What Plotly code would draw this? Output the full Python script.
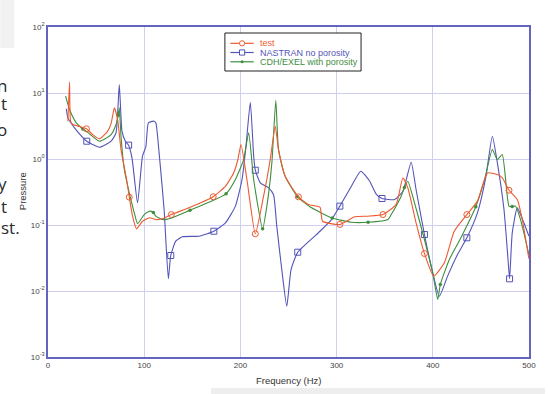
import plotly.graph_objects as go

# ---------------- data ----------------
red_f = [20.7, 22.4, 23.5, 25.9, 32.8, 40.0, 47.0, 53.5, 61.7, 65.5, 69.0, 72.4, 75.9, 81.7, 84.5, 87.9,
         92.0, 98.2, 105.2, 112.1, 118.9, 128.2, 146.5, 171.7, 184.5, 193.1, 197.5, 200.6, 206.8, 215.5,
         224.1, 231.0, 236.2, 239.6, 246.5, 260.3, 270.6, 282.7, 285.4, 303.4, 318.9, 332.7, 348.2, 361.9,
         368.9, 374.0, 382.6, 391.3, 400.9, 412.0, 422.3, 435.4, 446.4, 456.8, 467.1, 472.3, 479.2, 487.8,
         493.0, 499.9]
red_p = [3.74, 14.6, 3.7, 3.33, 3.1, 2.87, 2.3, 2.02, 2.6, 3.4, 5.97, 3.96, 1.39, 0.49, 0.264, 0.136,
         0.0875, 0.114, 0.129, 0.121, 0.124, 0.144, 0.182, 0.268, 0.387, 0.618, 1.0, 1.66, 0.489, 0.0736,
         0.273, 0.98, 3.14, 1.39, 0.548, 0.267, 0.205, 0.186, 0.114, 0.102, 0.133, 0.136, 0.144, 0.205,
         0.519, 0.366, 0.108, 0.037, 0.0168, 0.0267, 0.0805, 0.144, 0.23, 0.614, 0.58, 0.519, 0.336, 0.243,
         0.121, 0.0308]
red_marks = [40.0, 84.5, 128.2, 171.7, 215.5, 260.3, 303.4, 348.2, 391.3, 435.4, 479.2]

blue_f = [19.0, 20.7, 27.6, 40.3, 53.5, 65.6, 70.7, 74.1, 76.9, 80.4, 83.8, 87.3, 93.1, 98.2, 101.8,
          104.4, 110.3, 112.1, 115.5, 120.7, 125.1, 127.6, 132.8, 139.6, 156.9, 172.4, 184.5, 194.8, 201.7,
          205.8, 210.3, 213.8, 215.5, 220.7, 229.3, 234.4, 237.8, 243.0, 248.2, 252.7, 259.6, 281.0, 294.7,
          303.4, 315.4, 325.1, 334.4, 341.3, 347.2, 360.3, 368.9, 377.5, 382.6, 391.3, 399.9, 406.8, 415.4,
          425.7, 435.4, 446.4, 455.0, 461.9, 467.1, 474.0, 478.2, 479.8, 482.6, 487.8, 494.7, 499.9]
blue_p = [5.77, 4.2, 2.97, 1.86, 1.51, 1.86, 2.49, 13.4, 2.64, 1.86, 1.62, 1.04, 0.217, 1.10, 1.56,
          3.53, 3.74, 3.53, 1.24, 0.172, 0.0153, 0.0345, 0.0569, 0.0663, 0.0677, 0.0805, 0.108, 0.193, 0.489,
          1.56, 7.26, 1.10, 0.676, 0.436, 0.366, 0.290, 0.096, 0.0212, 0.00589, 0.0212, 0.0387, 0.0762, 0.121,
          0.193, 0.387, 0.653, 0.461, 0.290, 0.252, 0.243, 0.325, 0.895, 0.345, 0.0718, 0.0189, 0.00834, 0.0168,
          0.0357, 0.064, 0.153, 0.519, 2.21, 0.875, 0.172, 0.030, 0.0153, 0.0762, 0.182, 0.108, 0.0677]
blue_marks = [40.3, 83.8, 127.6, 172.4, 215.5, 259.6, 303.4, 347.2, 391.3, 435.4, 479.8]

green_f = [18.3, 22.4, 29.4, 36.2, 39.7, 53.5, 65.6, 70.7, 73.0, 74.1, 75.9, 79.3, 84.5, 89.7, 93.1,
           100.0, 105.9, 109.5, 112.1, 118.9, 125.9, 147.6, 167.2, 185.1, 194.8, 203.4, 208.6, 213.8, 223.1,
           227.5, 232.7, 236.8, 239.6, 246.5, 259.5, 274.0, 295.5, 315.4, 332.7, 353.4, 356.8, 367.1, 370.5,
           374.0, 381.0, 391.3, 399.9, 405.1, 407.8, 417.2, 429.2, 444.7, 453.4, 461.9, 467.0, 472.2, 479.2,
           482.5, 486.0, 491.2, 499.9]
green_p = [8.95, 5.62, 3.53, 2.85, 2.64, 1.86, 2.35, 3.33, 4.6, 5.97, 2.21, 0.694, 0.308, 0.153, 0.105,
           0.144, 0.162, 0.155, 0.136, 0.121, 0.124, 0.168, 0.221, 0.297, 0.489, 0.98, 2.49, 0.489, 0.0875,
           0.193, 0.875, 7.78, 1.39, 0.548, 0.267, 0.182, 0.128, 0.110, 0.110, 0.121, 0.144, 0.273, 0.37,
           0.461, 0.217, 0.0603, 0.0189, 0.00743, 0.0125, 0.030, 0.064, 0.189, 0.461, 1.39, 0.98, 1.17, 0.193,
           0.19, 0.193, 0.121, 0.0357]
green_marks = [36.2, 73.0, 109.5, 147.6, 185.1, 223.1, 259.5, 295.5, 332.7, 370.5, 407.8, 444.7, 482.5]

series_names = ["test", "NASTRAN no porosity", "CDH/EXEL with porosity"]
x_ticks = [0, 100, 200, 300, 400, 500]
y_tickvals = [0.001, 0.01, 0.1, 1, 10, 100]
y_ticktext = ["10<sup>-3</sup>", "10<sup>-2</sup>", "10<sup>-1</sup>", "10<sup>0</sup>", "10<sup>1</sup>", "10<sup>2</sup>"]

RED, BLUE, GREEN = "#ee5a30", "#5454b8", "#3e8e3e"

# ---------------- layout helpers ----------------
W, H = 548, 394
ML, MR, MT, MB = 48, 16, 27, 37
def xp(px):
    return (px - ML) / (W - ML - MR)
def yp(py):
    return (H - MB - py) / (H - MT - MB)

fig = go.Figure()

def add_series(f, p, marks, color, sym, size, lw):
    fig.add_trace(go.Scatter(x=f, y=p, mode="lines",
                             line=dict(color=color, width=1.1, shape="spline", smoothing=0.5),
                             showlegend=False, hoverinfo="skip"))
    mf = [fi for fi in f if fi in marks]
    mp = [p[i] for i, fi in enumerate(f) if fi in marks]
    fig.add_trace(go.Scatter(x=mf, y=mp, mode="markers",
                             marker=dict(symbol=sym, size=size, color=color,
                                         line=dict(color=color, width=lw)),
                             showlegend=False, hoverinfo="skip"))

add_series(blue_f, blue_p, blue_marks, BLUE, "square-open", 6, 1)
add_series(green_f, green_p, green_marks, GREEN, "circle", 3.5, 0)
add_series(red_f, red_p, red_marks, RED, "circle-open", 6, 1)

AX = "#6464c0"
GRID = "#cfcff0"
tickfont = dict(family="Liberation Sans, Arial", size=8, color="#444444")

fig.update_layout(
    width=W, height=H,
    margin=dict(l=ML, r=MR, t=MT, b=MB),
    paper_bgcolor="white", plot_bgcolor="white",
    showlegend=False,
    xaxis=dict(range=[0, 500], tickvals=x_ticks, ticktext=[str(v) for v in x_ticks],
               showgrid=True, gridcolor=GRID, gridwidth=1, zeroline=False,
               showline=True, linecolor=AX, linewidth=1.5, mirror=True,
               ticks="", tickfont=tickfont),
    yaxis=dict(type="log", range=[-3, 2], tickvals=y_tickvals, ticktext=y_ticktext,
               showgrid=True, gridcolor=GRID, gridwidth=1, zeroline=False,
               showline=True, linecolor=AX, linewidth=1.5, mirror=True,
               ticks="", tickfont=tickfont),
)

shapes = []
annos = []
# faint page fragments
shapes.append(dict(type="rect", xref="paper", yref="paper", x0=xp(0), x1=xp(14), y0=yp(48), y1=yp(0),
                   fillcolor="#f1f1f1", line=dict(width=0), layer="below"))
shapes.append(dict(type="rect", xref="paper", yref="paper", x0=xp(212), x1=xp(548), y0=yp(394), y1=yp(388),
                   fillcolor="#eeeeee", line=dict(width=0), layer="below"))

# legend box
shapes.append(dict(type="rect", xref="paper", yref="paper", x0=xp(226), x1=xp(363), y0=yp(71), y1=yp(33),
                   fillcolor="white", line=dict(color="#222222", width=1), layer="above"))
rows = [43.3, 52.5, 61.8]
colors = [RED, BLUE, GREEN]
for i, (name, c, ry) in enumerate(zip(series_names, colors, rows)):
    shapes.append(dict(type="line", xref="paper", yref="paper", x0=xp(231.5), x1=xp(255), y0=yp(ry), y1=yp(ry),
                       line=dict(color=c, width=1.2), layer="above"))
    cx = 243.3
    if i == 0:
        shapes.append(dict(type="circle", xref="paper", yref="paper", x0=xp(cx - 2.6), x1=xp(cx + 2.6),
                           y0=yp(ry + 2.6), y1=yp(ry - 2.6), fillcolor="white",
                           line=dict(color=c, width=1), layer="above"))
    elif i == 1:
        shapes.append(dict(type="rect", xref="paper", yref="paper", x0=xp(cx - 2.6), x1=xp(cx + 2.6),
                           y0=yp(ry + 2.6), y1=yp(ry - 2.6), fillcolor="white",
                           line=dict(color=c, width=1), layer="above"))
    else:
        shapes.append(dict(type="circle", xref="paper", yref="paper", x0=xp(cx - 1.5), x1=xp(cx + 1.5),
                           y0=yp(ry + 1.5), y1=yp(ry - 1.5), fillcolor=c,
                           line=dict(color=c, width=0), layer="above"))
    annos.append(dict(xref="paper", yref="paper", x=xp(259), y=yp(ry), xanchor="left", yanchor="middle",
                      text=name, showarrow=False,
                      font=dict(family="Liberation Sans, Arial", size=9, color=c)))

# axis titles
annos.append(dict(xref="paper", yref="paper", x=xp(290), y=yp(380), xanchor="center", yanchor="middle",
                  text="Frequency (Hz)", showarrow=False,
                  font=dict(family="Liberation Sans, Arial", size=9.5, color="#333333")))
annos.append(dict(xref="paper", yref="paper", x=xp(22), y=yp(191), xanchor="center", yanchor="middle",
                  text="Pressure", textangle=-90, showarrow=False,
                  font=dict(family="Liberation Sans, Arial", size=9.5, color="#333333")))

# cropped text fragments of the surrounding page
frags = [("n", 85, 9), ("t", 104, 9), ("o", 129, 9), ("y", 184, 9), ("t", 206, 9), ("st.", 227, 22)]
for t, fy, rx in frags:
    annos.append(dict(xref="paper", yref="paper", x=xp(rx), y=yp(fy), xanchor="right", yanchor="middle",
                      text=t, showarrow=False,
                      font=dict(family="Open Sans", size=17, color="#2a2a2a")))

fig.update_layout(shapes=shapes, annotations=annos)
fig.write_html("out.html", config={"displayModeBar": False},
               post_script="document.body.style.margin='0px';document.body.style.padding='0px';")
